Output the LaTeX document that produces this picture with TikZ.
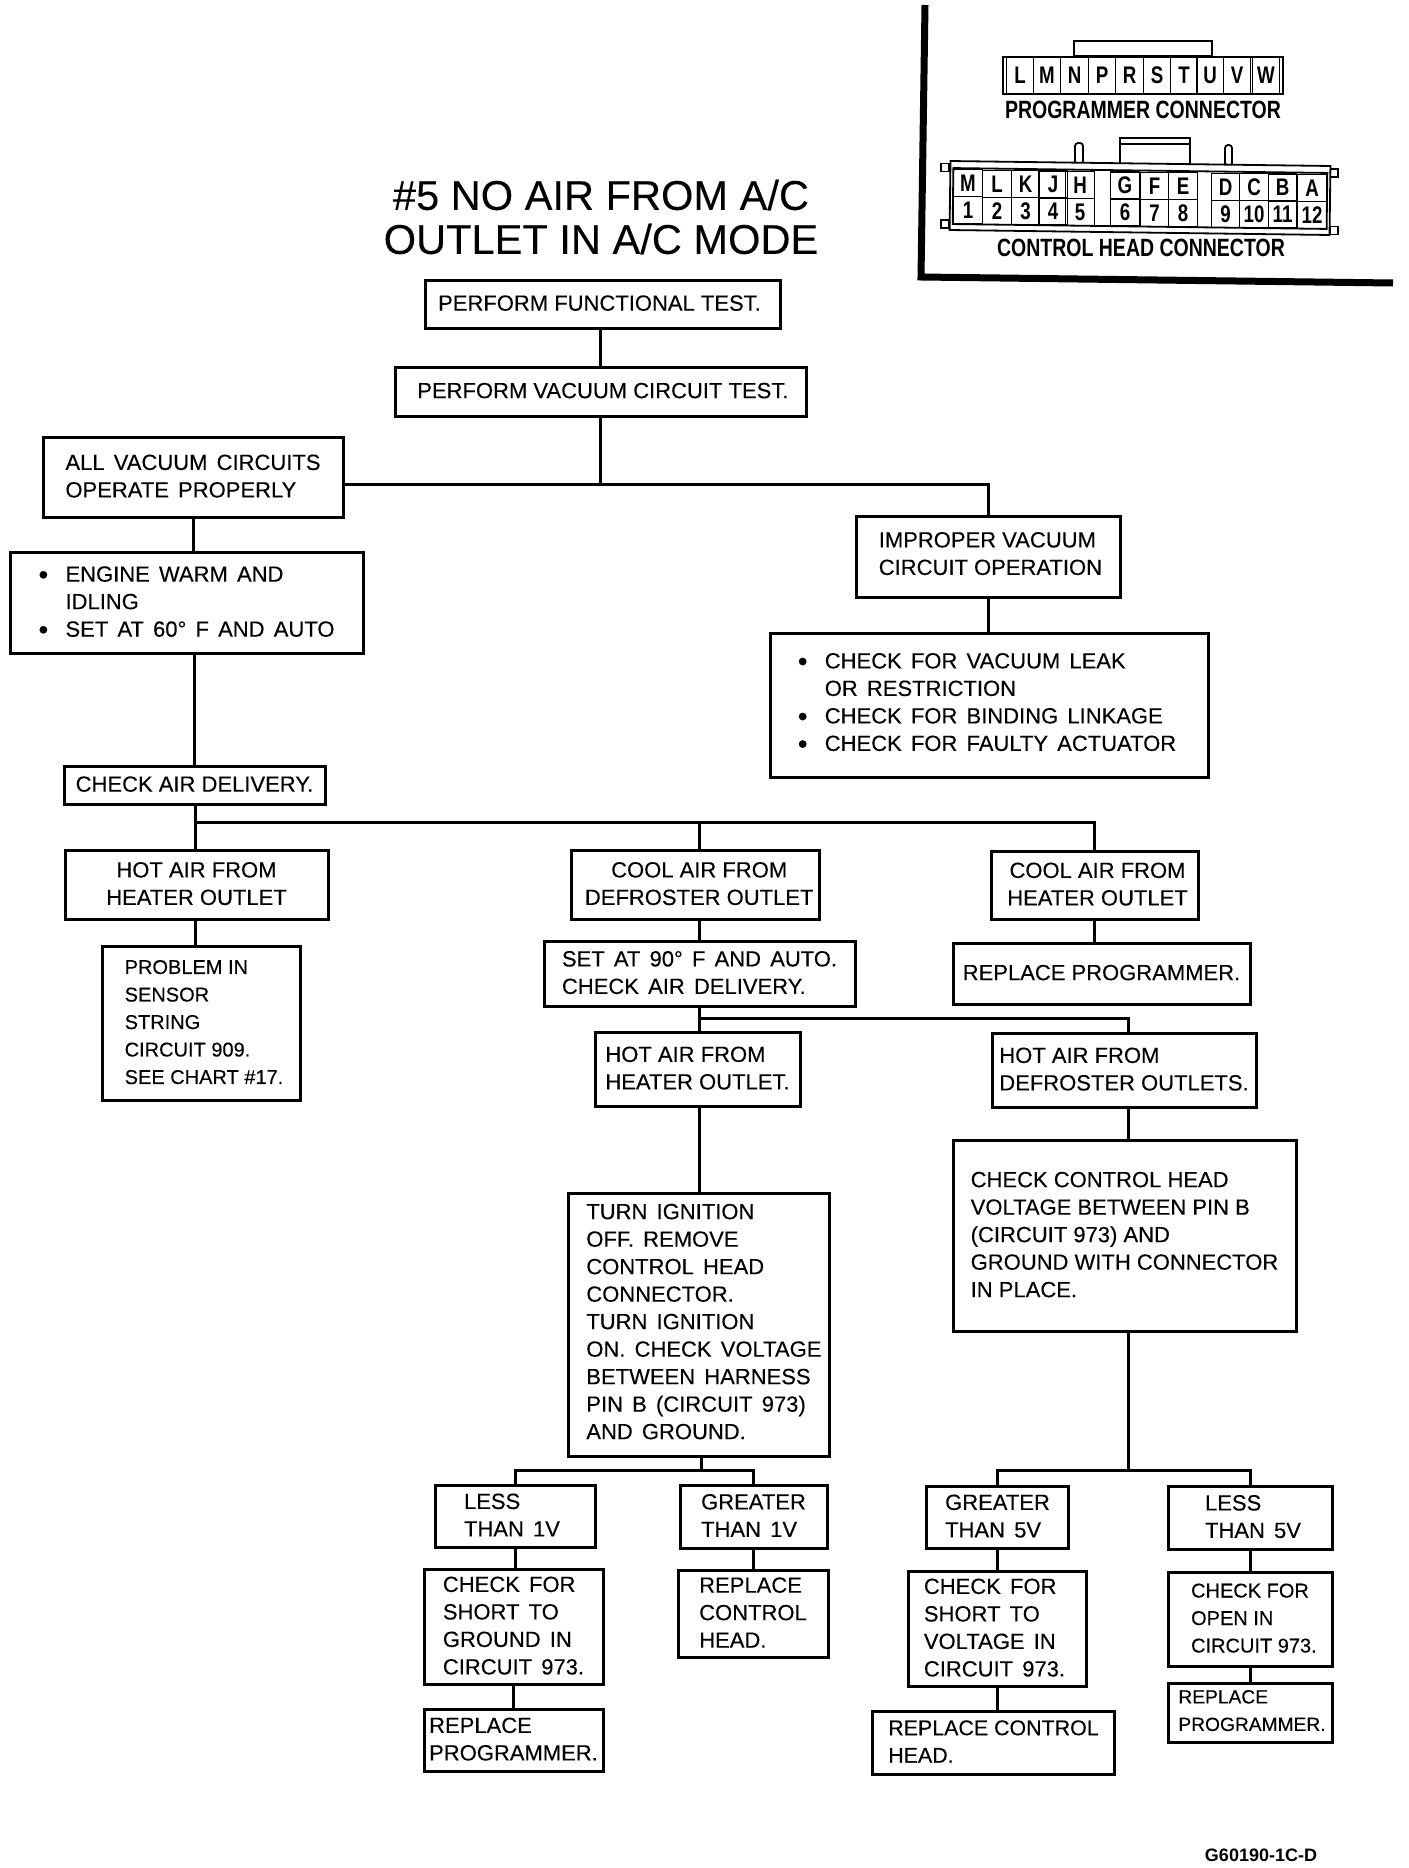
\documentclass[tikz,border=0pt]{standalone}
\usepackage{fontspec}
\setmainfont[FakeBold=0.2]{Liberation Sans}
\newfontfamily\widefont[FakeBold=0.2, WordSpace=1.5]{Liberation Sans}
\newfontfamily\condfont[FakeStretch=0.78]{Liberation Sans}
\newfontfamily\codefont{Liberation Sans}
\usetikzlibrary{arrows}
\pgfdeclarelayer{edgelayer}
\pgfdeclarelayer{nodelayer}
\pgfsetlayers{edgelayer,nodelayer,main}
\newcommand{\bul}{\makebox[13.5pt][l]{\fontsize{14}{13.75}\selectfont\raisebox{-1.2pt}{•}}}
\newcommand{\nobul}{\hspace*{13.5pt}}
\tikzset{wh/.style 2 args={minimum width=#1*0.5pt, minimum height=#2*0.5pt}}
\tikzstyle{none} = []
\tikzstyle{box}=[draw, line width=1.5pt, fill=white, inner sep=0pt, outer sep=0pt, align=left, text depth=1pt, font=\fontsize{11}{13.75}\selectfont]
\tikzstyle{wide}=[font=\fontsize{11}{13.75}\widefont]
\tikzstyle{small}=[font=\fontsize{10}{13.75}\selectfont]
\tikzstyle{title}=[align=center, font=\fontsize{20.8}{22}\selectfont]
\tikzstyle{plug}=[draw, line width=0.9pt, fill=white, inner sep=0pt, outer sep=0pt]
\tikzstyle{cell}=[draw, line width=0.7pt, inner sep=0pt, outer sep=0pt, font=\fontsize{12}{12}\condfont\bfseries]
\tikzstyle{caption}=[font=\fontsize{12.5}{13}\condfont\bfseries]
\tikzstyle{code}=[font=\fontsize{9}{10}\codefont\bfseries]
\tikzstyle{wire}=[line width=1.5pt]
\tikzstyle{frame}=[line width=3.5pt]

\begin{document}
\begin{tikzpicture}[x=0.5pt, y=-0.5pt]
	\useasboundingbox (0, 0) rectangle (1408, 1868);
	\begin{pgfonlayer}{nodelayer}
		\node [style=title] (100) at (601, 217) {\#5 NO AIR FROM A/C\\OUTLET IN A/C MODE};
		\node [style=box, wh={355}{48}] (0) at (602.5, 304) {PERFORM FUNCTIONAL TEST.\kern3pt};
		\node [style=box, wh={411}{49}] (1) at (600.5, 391.5) {PERFORM VACUUM CIRCUIT TEST.\kern-2.4pt};
		\node [style=box, style=wide, wh={300}{80}] (2) at (193, 477) {ALL VACUUM CIRCUITS\\OPERATE PROPERLY};
		\node [style=box, style=wide, wh={353}{101}] (3) at (186.5, 602.5) {\bul ENGINE WARM AND\\\nobul IDLING\\\bul SET AT 60° F AND AUTO};
		\node [style=box, wh={264}{81}, text depth=3pt] (4) at (988, 556.5) {IMPROPER VACUUM\\CIRCUIT OPERATION\kern-2.4pt};
		\node [style=box, style=wide, wh={438}{144}, text depth=3pt] (5) at (989, 705) {\bul CHECK FOR VACUUM LEAK\\\nobul OR RESTRICTION\\\bul CHECK FOR BINDING LINKAGE\\\bul CHECK FOR FAULTY ACTUATOR\kern2pt};
		\node [style=box, wh={261}{38}] (6) at (194.5, 785) {CHECK AIR DELIVERY.};
		\node [style=box, wh={263}{69}, align=center] (7) at (196.5, 884.5) {HOT AIR FROM\\HEATER OUTLET};
		\node [style=box, wh={248}{69}, align=center] (8) at (695, 884.5) {COOL AIR FROM\kern-4.2pt\\DEFROSTER OUTLET\kern-4.2pt};
		\node [style=box, wh={207}{68}, align=center] (9) at (1094.5, 885) {COOL AIR FROM\kern-3pt\\HEATER OUTLET\kern-3pt};
		\node [style=box, style=small, wh={198}{154}] (10) at (201, 1023) {PROBLEM IN\\SENSOR\\STRING\\CIRCUIT 909.\\SEE CHART \#17.\kern-3pt};
		\node [style=box, style=wide, wh={311}{65}] (11) at (699.5, 973.5) {SET AT 90° F AND AUTO.\\CHECK AIR DELIVERY.};
		\node [style=box, wh={297}{61}] (12) at (1101.5, 973.5) {REPLACE PROGRAMMER.};
		\node [style=box, wh={205}{74}] (13) at (697.5, 1069) {HOT AIR FROM\\HEATER OUTLET.};
		\node [style=box, wh={264}{74}] (14) at (1124, 1070) {HOT AIR FROM\\DEFROSTER OUTLETS.};
		\node [style=box, style=wide, wh={261}{263}, text depth=3pt] (15) at (698.5, 1324.5) {TURN IGNITION\\OFF. REMOVE\\CONTROL HEAD\\CONNECTOR.\\TURN IGNITION\\ON. CHECK VOLTAGE\kern-6pt\\BETWEEN HARNESS\\PIN B (CIRCUIT 973)\\AND GROUND.};
		\node [style=box, wh={343}{191}] (16) at (1124.5, 1235.5) {CHECK CONTROL HEAD\\VOLTAGE BETWEEN PIN B\\(CIRCUIT 973) AND\\GROUND WITH CONNECTOR\\IN PLACE.};
		\node [style=box, style=wide, wh={160}{62}] (17) at (515, 1516) {LESS\\THAN 1V\kern3pt};
		\node [style=box, style=wide, wh={147}{63}] (18) at (753.5, 1516.5) {GREATER\\THAN 1V};
		\node [style=box, style=wide, wh={142}{62}] (19) at (997.5, 1517) {GREATER\\THAN 5V};
		\node [style=box, style=wide, wh={164}{63}] (20) at (1250, 1517.5) {LESS\\THAN 5V\kern-3pt};
		\node [style=box, style=wide, wh={179}{115}] (21) at (513.5, 1626.5) {CHECK FOR\\SHORT TO\\GROUND IN\\CIRCUIT 973.};
		\node [style=box, wh={150}{87}] (22) at (753, 1613.5) {REPLACE\\CONTROL\\HEAD.};
		\node [style=box, style=wide, wh={178}{115}] (23) at (997.5, 1628.5) {CHECK FOR\\SHORT TO\\VOLTAGE IN\\CIRCUIT 973.\kern3pt};
		\node [style=box, style=small, wh={164}{94}] (24) at (1250, 1619) {CHECK FOR\\OPEN IN\\CIRCUIT 973.\kern-5pt};
		\node [style=box, wh={179}{62}] (25) at (513.5, 1740) {REPLACE\\PROGRAMMER.};
		\node [style=box, wh={242}{63}, font=\fontsize{10.7}{13.75}\selectfont] (26) at (993.5, 1742.5) {REPLACE CONTROL\\HEAD.};
		\node [style=box, wh={164}{59}, font=\fontsize{9.6}{13.75}\selectfont, text depth=2pt] (27) at (1250, 1712.5) {REPLACE\\PROGRAMMER.\kern-2pt};
		\node [style=code] (28) at (1261, 1855) {G60190-1C-D};
		\node [style=none] (40) at (600.5, 484) {};
		\node [style=none] (41) at (988, 484) {};
		\node [style=none] (42) at (195.5, 822) {};
		\node [style=none] (43) at (699, 822) {};
		\node [style=none] (44) at (1094.5, 822) {};
		\node [style=none] (45) at (699, 1018) {};
		\node [style=none] (46) at (1128, 1018) {};
		\node [style=none] (48) at (1128, 1470) {};
		\node [style=none] (49) at (997.5, 1470) {};
		\node [style=none] (50) at (1250, 1470) {};
		\node [style=none] (51) at (701, 1470) {};
		\node [style=none] (52) at (515, 1470) {};
		\node [style=none] (53) at (753.5, 1470) {};
		\node [style=none] (60) at (925, 5) {};
		\node [style=none] (61) at (921, 277) {};
		\node [style=none] (62) at (1393, 283) {};
		\node [style=plug, wh={138}{15}] (71) at (1143, 48.5) {};
		\node [style=plug, wh={280}{37}] (70) at (1143, 75.5) {};
		\node [style=cell, wh={27.5}{37}] (72) at (1020, 75.5) {L};
		\node [style=cell, wh={27.5}{37}] (73) at (1047, 75.5) {M};
		\node [style=cell, wh={27.5}{37}] (74) at (1074.5, 75.5) {N};
		\node [style=cell, wh={27.5}{37}] (75) at (1102, 75.5) {P};
		\node [style=cell, wh={27.5}{37}] (76) at (1129.5, 75.5) {R};
		\node [style=cell, wh={27.5}{37}] (77) at (1157, 75.5) {S};
		\node [style=cell, wh={27.5}{37}] (78) at (1184, 75.5) {T};
		\node [style=cell, wh={27.5}{37}] (79) at (1210, 75.5) {U};
		\node [style=cell, wh={27.5}{37}] (80) at (1237, 75.5) {V};
		\node [style=cell, wh={27.5}{37}] (81) at (1266, 75.5) {W};
		\node [style=caption] (82) at (1143, 110) {PROGRAMMER CONNECTOR};
		\node [style=plug, wh={70}{27}] (83) at (1155, 151.5) {};
		\node [style=plug, wh={70}{6}] (84) at (1155, 141) {};
		\node [style=plug, wh={8}{21}, rounded corners=1.5pt] (85) at (1079, 153.5) {};
		\node [style=plug, wh={7}{21}, rounded corners=1.5pt] (86) at (1228.5, 155.5) {};
		\node [style=plug, wh={8}{8}] (87) at (945, 167.5) {};
		\node [style=plug, wh={8}{8}] (88) at (945, 224) {};
		\node [style=plug, wh={8}{8}] (89) at (1334, 173) {};
		\node [style=plug, wh={8}{8}] (90) at (1334, 230.5) {};
		\node [style=plug, wh={380}{69}, rotate=-0.75] (91) at (1140, 198) {};
		\node [style=plug, wh={374}{56}, rotate=-0.75] (92) at (1140, 198.5) {};
		\node [style=cell, wh={28.5}{27}] (110) at (968, 183) {M};
		\node [style=cell, wh={28.5}{27}] (111) at (997, 184) {L};
		\node [style=cell, wh={28.5}{27}] (112) at (1025.5, 184) {K};
		\node [style=cell, wh={28.5}{27}] (113) at (1053, 184.5) {J};
		\node [style=cell, wh={28.5}{27}] (114) at (1080, 185) {H};
		\node [style=cell, wh={28.5}{27}] (115) at (1125, 185.5) {G};
		\node [style=cell, wh={28.5}{27}] (116) at (1154.5, 186) {F};
		\node [style=cell, wh={28.5}{27}] (117) at (1183, 186) {E};
		\node [style=cell, wh={28.5}{27}] (118) at (1225.5, 187) {D};
		\node [style=cell, wh={28.5}{27}] (119) at (1254, 187) {C};
		\node [style=cell, wh={28.5}{27}] (120) at (1282.5, 187.5) {B};
		\node [style=cell, wh={28.5}{27}] (121) at (1312, 188) {A};
		\node [style=cell, wh={28.5}{27}] (130) at (968, 210) {1};
		\node [style=cell, wh={28.5}{27}] (131) at (997, 211) {2};
		\node [style=cell, wh={28.5}{27}] (132) at (1025.5, 211) {3};
		\node [style=cell, wh={28.5}{27}] (133) at (1053, 211.5) {4};
		\node [style=cell, wh={28.5}{27}] (134) at (1080, 212) {5};
		\node [style=cell, wh={28.5}{27}] (135) at (1125, 212.5) {6};
		\node [style=cell, wh={28.5}{27}] (136) at (1154.5, 213) {7};
		\node [style=cell, wh={28.5}{27}] (137) at (1183, 213) {8};
		\node [style=cell, wh={28.5}{27}] (138) at (1225.5, 214) {9};
		\node [style=cell, wh={28.5}{27}] (139) at (1254, 214) {10};
		\node [style=cell, wh={28.5}{27}] (140) at (1282.5, 214.5) {11};
		\node [style=cell, wh={28.5}{27}] (141) at (1312, 215) {12};
		\node [style=caption] (93) at (1141, 248) {CONTROL HEAD CONNECTOR};
	\end{pgfonlayer}
	\begin{pgfonlayer}{edgelayer}
		\draw [style=wire] (1.north |- 0.south) to (1.north);
		\draw [style=wire] (1.south) to (40.center);
		\draw [style=wire] (2.east |- 40.center) to (41.center) to (4.north);
		\draw [style=wire] (2.south) to (2.south |- 3.north);
		\draw [style=wire] (4.south) to (4.south |- 5.north);
		\draw [style=wire] (6.north |- 3.south) to (6.north);
		\draw [style=wire] (42.center |- 6.south) to (42.center |- 7.north);
		\draw [style=wire] (42.center) to (44.center) to (9.north);
		\draw [style=wire] (43.center) to (43.center |- 8.north);
		\draw [style=wire] (42.center |- 7.south) to (42.center |- 10.north);
		\draw [style=wire] (43.center |- 8.south) to (43.center |- 11.north);
		\draw [style=wire] (9.south) to (9.south |- 12.north);
		\draw [style=wire] (43.center |- 11.south) to (43.center |- 13.north);
		\draw [style=wire] (45.center) to (46.center) to (46.center |- 14.north);
		\draw [style=wire] (43.center |- 13.south) to (43.center |- 15.north);
		\draw [style=wire] (46.center |- 14.south) to (46.center |- 16.north);
		\draw [style=wire] (48.center |- 16.south) to (48.center);
		\draw [style=wire] (19.north) to (49.center) to (50.center) to (20.north);
		\draw [style=wire] (51.center |- 15.south) to (51.center);
		\draw [style=wire] (17.north) to (52.center) to (53.center) to (18.north);
		\draw [style=wire] (17.south) to (17.south |- 21.north);
		\draw [style=wire] (18.south) to (18.south |- 22.north);
		\draw [style=wire] (19.south) to (19.south |- 23.north);
		\draw [style=wire] (20.south) to (20.south |- 24.north);
		\draw [style=wire] (21.south) to (25.north);
		\draw [style=wire] (23.south) to (23.south |- 26.north);
		\draw [style=wire] (24.south) to (27.north);
		\draw [style=frame] (60.center) to (61.center) to (62.center);
	\end{pgfonlayer}
\end{tikzpicture}
\end{document}
